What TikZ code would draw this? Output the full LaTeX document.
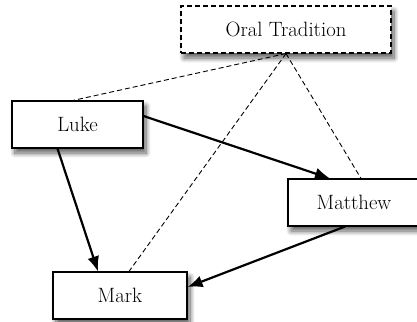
\documentclass[tikz,border=0pt]{standalone}
\usetikzlibrary{arrows.meta,shadows.blur}
\begin{document}
\begin{tikzpicture}[x=1bp,y=-1bp,
  every node/.style={font=\fontsize{20.8}{24}\selectfont},
  gospel/.style={draw=black, line width=1.1bp, fill=white, minimum height=47bp,
    inner sep=0pt,
    blur shadow={shadow xshift=3bp, shadow yshift=-5bp, shadow blur steps=10,
      shadow blur radius=5bp, shadow opacity=65}},
  tradition/.style={gospel, dash pattern=on 5bp off 3bp},
  influence/.style={line width=2.2bp, -{Latex[length=15bp,width=12bp]}},
  oral/.style={line width=0.9bp, dash pattern=on 5bp off 3bp}]
\useasboundingbox (0,0) rectangle (417,322);

% sources
\node[tradition, minimum width=210bp] (oral) at (286,29.5) {Oral Tradition};
\node[gospel, minimum width=131bp] (luke) at (77.5,124.5) {Luke};
\node[gospel, minimum width=132bp] (matthew) at (354,202.5) {Matthew};
\node[gospel, minimum width=134bp] (mark) at (120,295.5) {Mark};

% oral tradition feeding each gospel
\draw[oral] (oral.south) -- ([xshift=-4.5bp]luke.north);
\draw[oral] (oral.south) -- ([xshift=9bp]mark.north);
\draw[oral] (oral.south) -- ([xshift=7bp]matthew.north);

% literary dependence
\draw[influence] ([xshift=-20bp]luke.south) -- ([xshift=-22bp]mark.north);
\draw[influence] ([yshift=8.5bp]luke.east) -- ([xshift=-24bp]matthew.north);
\draw[influence] ([xshift=-9bp]matthew.south) -- ([yshift=8.5bp]mark.east);
\end{tikzpicture}
\end{document}
